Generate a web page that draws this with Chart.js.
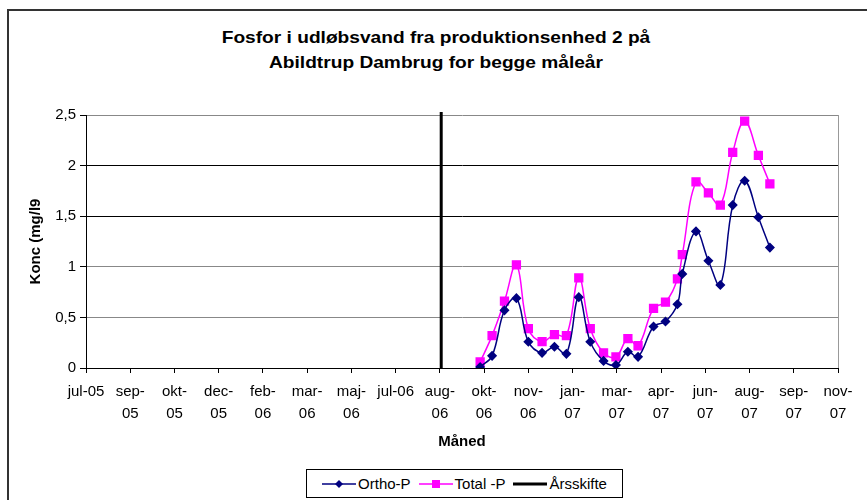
<!DOCTYPE html>
<html>
<head>
<meta charset="utf-8">
<script src="https://cdn.jsdelivr.net/npm/chart.js@4"></script>
<style>
    body { margin: 0; width: 867px; height: 500px; overflow: hidden; position: relative; background: #fff; font-family: Arial, "Liberation Sans", sans-serif; }
    #frame { position: absolute; left: 7px; top: 9px; width: 900px; height: 600px; border: 2px solid #333; }
    #title { position: absolute; left: 0; top: 25px; width: 872px; text-align: center; font-weight: bold; font-size: 16.5px; line-height: 25px; transform: scaleX(1.16); }
    #chart { position: absolute; left: 0; top: 0; }
    #legend { position: absolute; left: 306px; top: 469px; width: 317px; height: 29px; box-sizing: border-box; border: 1px solid #000; background: #fff; display: flex; align-items: center; justify-content: center; font-size: 15px; }
    #legend .item { display: flex; align-items: center; margin: 0 4px; }
    #legend svg { margin-right: 2px; }
</style>
</head>
<body>
<div id="frame"></div>
<div id="title">Fosfor i udløbsvand fra produktionsenhed 2 på<br>Abildtrup Dambrug for begge måleår</div>
<canvas id="chart" width="867" height="500"></canvas>
<div id="legend"></div>
<script>
// x-aksens mærker (ét pr. hovedinddeling)
const TICK_LABELS = ['jul-05', 'sep-05', 'okt-05', 'dec-05', 'feb-06', 'mar-06', 'maj-06', 'jul-06', 'aug-06',
    'okt-06', 'nov-06', 'jan-07', 'mar-07', 'apr-07', 'jun-07', 'aug-07', 'sep-07', 'nov-07'];
const NO_WRAP = ['jul-05', 'jul-06'];

// prøvetagning, position i enheder af hovedinddelinger
const SAMPLE_POS = [8.91, 9.18, 9.46, 9.73, 10.0, 10.31, 10.59, 10.86, 11.14, 11.40, 11.70, 11.98, 12.25,
    12.48, 12.83, 13.10, 13.37, 13.48, 13.79, 14.07, 14.34, 14.62, 14.89, 15.20, 15.46];
const ORTHO_P = [0.01, 0.12, 0.57, 0.69, 0.26, 0.15, 0.21, 0.14, 0.70, 0.26, 0.07, 0.03, 0.16,
    0.11, 0.41, 0.46, 0.63, 0.93, 1.35, 1.06, 0.82, 1.61, 1.85, 1.49, 1.19];
const TOTAL_P = [0.06, 0.32, 0.66, 1.02, 0.39, 0.26, 0.33, 0.32, 0.89, 0.39, 0.15, 0.11, 0.29,
    0.22, 0.59, 0.65, 0.88, 1.12, 1.84, 1.73, 1.61, 2.13, 2.44, 2.10, 1.82];
const YEAR_SHIFT = [{ x: 8.03, y: 0 }, { x: 8.03, y: 2.53 }];

const SERIES = [
    { label: 'Ortho-P', color: '#000080', marker: 'diamond' },
    { label: 'Total -P', color: '#FF00FF', marker: 'square' },
    { label: 'Årsskifte', color: '#000000', marker: null }
];

const toPoints = vals => vals.map((v, i) => ({ x: SAMPLE_POS[i], y: v }));

// grå kant til højre om plotområdet
const plotBorder = {
    id: 'plotBorder',
    afterDatasetsDraw(chart) {
        const { ctx, chartArea: a } = chart;
        ctx.save();
        ctx.strokeStyle = '#999';
        ctx.lineWidth = 1;
        ctx.beginPath();
        ctx.moveTo(a.right + 0.5, a.top);
        ctx.lineTo(a.right + 0.5, a.bottom);
        ctx.stroke();
        ctx.restore();
    }
};

const ctx = document.getElementById('chart').getContext('2d');
new Chart(ctx, {
    type: 'line',
    data: {
        datasets: [
            {
                label: SERIES[0].label,
                data: toPoints(ORTHO_P),
                borderColor: SERIES[0].color,
                backgroundColor: SERIES[0].color,
                borderWidth: 1.5,
                pointStyle: 'rectRot',
                pointRadius: 4,
                tension: 0.4
            },
            {
                label: SERIES[1].label,
                data: toPoints(TOTAL_P),
                borderColor: SERIES[1].color,
                backgroundColor: SERIES[1].color,
                borderWidth: 1.5,
                pointStyle: 'rect',
                pointRadius: 5.5,
                tension: 0.4
            },
            {
                label: SERIES[2].label,
                data: YEAR_SHIFT,
                borderColor: SERIES[2].color,
                borderWidth: 3,
                pointRadius: 0,
                clip: false
            }
        ]
    },
    options: {
        responsive: false,
        animation: false,
        layout: { padding: { top: 115, left: 0, right: 29, bottom: 0 } },
        plugins: {
            legend: { display: false },
            tooltip: { enabled: false }
        },
        scales: {
            x: {
                type: 'linear',
                min: 0,
                max: 17,
                afterFit: s => { s.height = 132; },
                grid: { drawOnChartArea: false, drawTicks: true, tickLength: 5, color: '#000' },
                border: { color: '#000', width: 1 },
                ticks: {
                    stepSize: 1,
                    autoSkip: false,
                    maxRotation: 0,
                    padding: 8,
                    color: '#000',
                    font: { family: 'Arial', size: 15, lineHeight: 1.45 },
                    callback: v => {
                        const lab = TICK_LABELS[v];
                        if (!lab || NO_WRAP.includes(lab)) return lab;
                        const parts = lab.split('-');
                        return [parts[0] + '-', parts[1]];
                    }
                },
                title: {
                    display: true,
                    text: 'Måned',
                    color: '#000',
                    font: { family: 'Arial', size: 15, weight: 'bold' },
                    padding: { top: 0, bottom: 49 }
                }
            },
            y: {
                min: 0,
                max: 2.5,
                afterFit: s => { s.width = 86; },
                grid: {
                    color: c => (c.tick.value === 1.5 || c.tick.value === 2) ? '#000' : '#888',
                    tickColor: '#000',
                    tickLength: 6
                },
                border: { color: '#000', width: 1 },
                ticks: {
                    stepSize: 0.5,
                    padding: 4,
                    color: '#000',
                    font: { family: 'Arial', size: 15 },
                    callback: v => String(v).replace('.', ',')
                },
                title: {
                    display: true,
                    text: 'Konc (mg/l9',
                    color: '#000',
                    font: { family: 'Arial', size: 15, weight: 'bold' },
                    padding: { top: 27, bottom: 0 }
                }
            }
        }
    },
    plugins: [plotBorder]
});

// forklaring med streg og markør som i Excel
const legend = document.getElementById('legend');
SERIES.forEach(s => {
    let mark = '';
    if (s.marker === 'diamond') mark = `<polygon points="17,2 21,6 17,10 13,6" fill="${s.color}"/>`;
    if (s.marker === 'square') mark = `<rect x="13" y="2" width="8" height="8" fill="${s.color}"/>`;
    const w = s.marker ? 1.5 : 3;
    const item = document.createElement('div');
    item.className = 'item';
    item.innerHTML = `<svg width="34" height="12"><line x1="0" y1="6" x2="34" y2="6" stroke="${s.color}" stroke-width="${w}"/>${mark}</svg><span>${s.label}</span>`;
    legend.appendChild(item);
});
</script>
</body>
</html>
